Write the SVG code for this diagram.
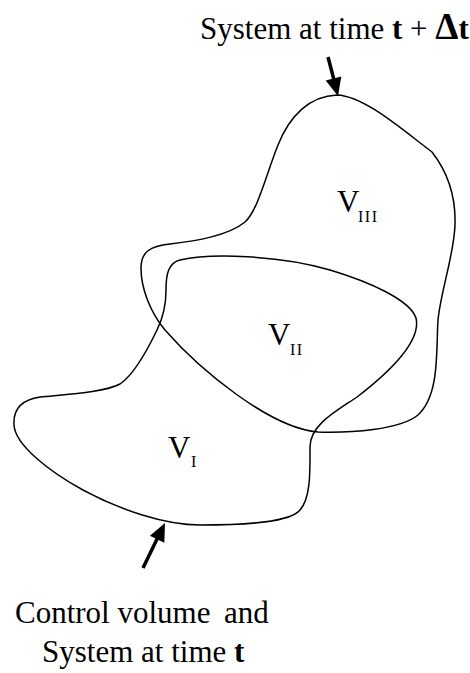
<svg xmlns="http://www.w3.org/2000/svg" width="470" height="673" viewBox="0 0 470 673">
<style>
  text { font-family: 'Liberation Serif', 'DejaVu Serif', serif; fill: #000; }
  .t { font-size: 31px; }
  .b { font-weight: bold; }
  .v { font-size: 31px; }
  .s { font-size: 16px; letter-spacing: 1.5px; }
  .curve { fill: none; stroke: #000; stroke-width: 1.5; }
  .shaft { stroke: #000; stroke-width: 3.5; }
  .head { fill: #000; }
</style>
<rect width="470" height="673" fill="#fff"/>
<g id="system-t-dt">
  <path class="curve" d="M337,95 C365,96 405,132 432,152 C446,170 456,195 455,225 C454,255 441,290 438,320 C436,350 440,395 418,415 C400,430 350,433 318,432 C270,428 200,370 165,330 C150,312 141,288 141,268 C141,252 150,246 170,244 C195,241 228,236 245,222 C258,210 266,175 278,145 C290,115 310,96 337,95 Z"/>
</g>
<g id="control-volume">
  <path class="curve" d="M180,260 C210,253 280,255 330,270 C370,282 410,300 416,318 C420,335 405,360 357,397 C335,412 310,425 310,447 C310,470 311,498 300,510 C290,522 250,525 200,525 C165,525 120,510 83,490 C50,472 15,445 14,425 C13,410 20,400 40,397 C70,394 105,392 120,384 C132,376 145,355 157,330 C163,318 166,305 166,290 C166,275 168,263 180,260 Z"/>
</g>
<g id="labels">
  <g id="v3"><text class="v" x="337" y="212" font-family="Liberation Serif, serif">V</text><text class="s" x="358" y="222" font-family="Liberation Serif, serif">III</text></g>
  <g id="v2"><text class="v" x="268" y="345" font-family="Liberation Serif, serif">V</text><text class="s" x="290" y="355" font-family="Liberation Serif, serif">II</text></g>
  <g id="v1"><text class="v" x="168" y="458" font-family="Liberation Serif, serif">V</text><text class="s" x="191" y="467" font-family="Liberation Serif, serif">I</text></g>
</g>
<g id="title-top">
  <text class="t" x="200" y="39" font-family="Liberation Serif, serif">System at time <tspan class="b">t</tspan> + <tspan class="b" font-size="37">Δ</tspan><tspan class="b">t</tspan></text>
</g>
<g id="title-bottom">
  <text class="t" x="15" y="623" font-family="Liberation Serif, serif">Control volume<tspan x="224">and</tspan></text>
  <text class="t" x="42" y="662" font-family="Liberation Serif, serif">System at time <tspan class="b">t</tspan></text>
</g>
<g id="connectors">
  <line class="shaft" x1="328" y1="57" x2="334" y2="80"/>
  <polygon class="head" points="338,96 341.3,76.6 325.7,80.6"/>
  <line class="shaft" x1="143" y1="568" x2="157.5" y2="538"/>
  <polygon class="head" points="165,523 164.3,542.7 149.9,535.7"/>
</g>
</svg>
